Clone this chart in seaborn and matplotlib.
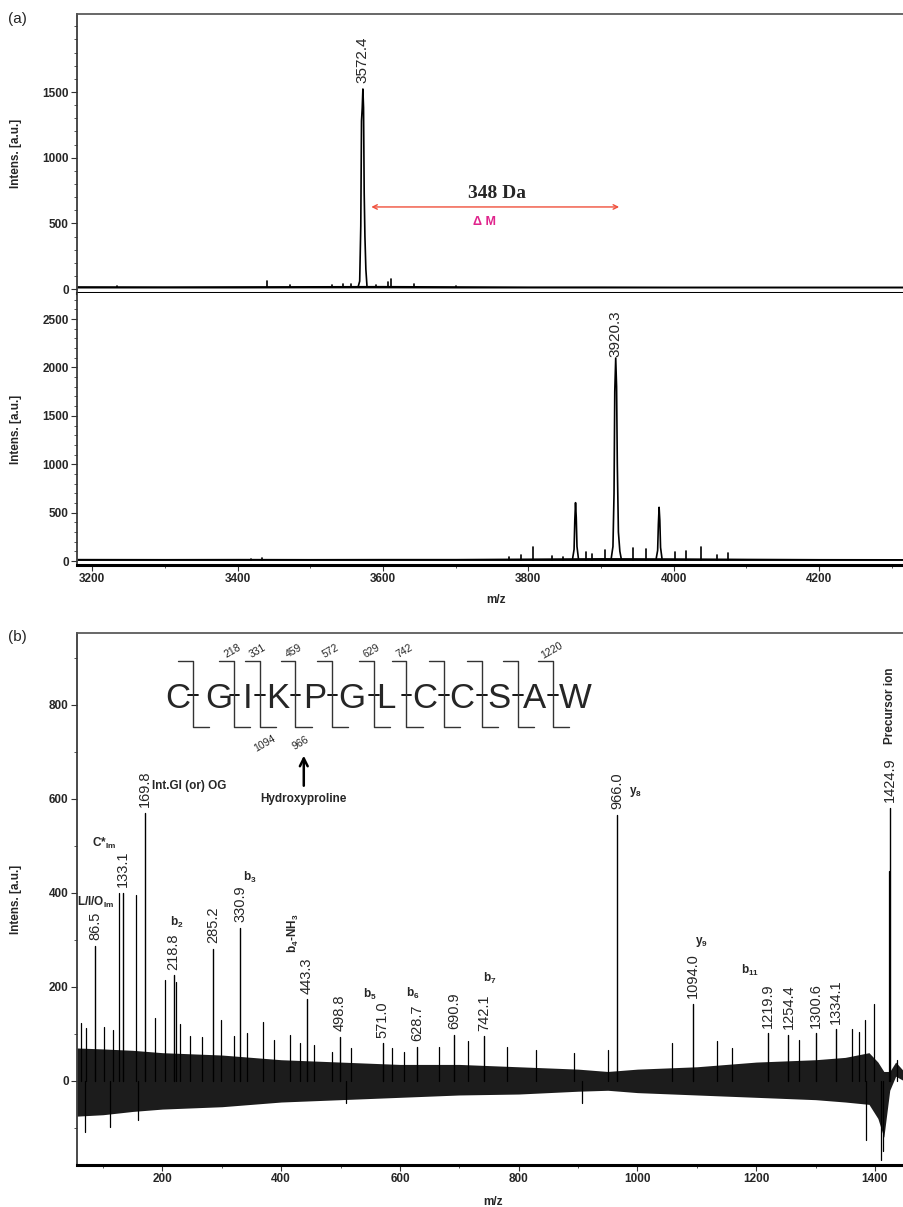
import numpy as np
import pandas as pd
import seaborn as sns
import matplotlib.pyplot as plt
from matplotlib.ticker import MultipleLocator

sns.set_theme(style="ticks")
plt.rcParams["font.family"] = ["Liberation Sans", "DejaVu Sans"]
plt.rcParams["mathtext.fontset"] = "custom"
plt.rcParams["mathtext.rm"] = "Liberation Sans"
plt.rcParams["mathtext.bf"] = "Liberation Sans:bold"

# ---------------- data ----------------
# (a) top spectrum: main peak profile + small peaks
a1_peak_mz = [3566, 3568, 3569.5, 3570.5, 3571.5, 3572.4, 3573.3, 3574.2, 3575.2, 3576.5, 3578]
a1_peak_int = [20, 60, 480, 1280, 1380, 1523, 1380, 730, 400, 150, 25]
a1_small_mz = [3234, 3440, 3472, 3530, 3545, 3556, 3591, 3607, 3611, 3643, 3700]
a1_small_int = [25, 60, 28, 32, 35, 38, 30, 55, 80, 42, 25]
a1_base_mz = [3179, 3300, 3400, 3500, 3600, 3700, 3800, 3900, 4000, 4100, 4200, 4317]
a1_base_hi = [26, 25, 26, 27, 28, 26, 24, 24, 23, 23, 23, 23]
a1_base_lo = [8, 8, 8, 9, 9, 8, 8, 8, 8, 8, 8, 8]

# (a) lower spectrum
a2_peak_mz = [3914, 3916.5, 3918, 3919, 3920.3, 3921.5, 3922.5, 3924, 3926, 3928]
a2_peak_int = [20, 150, 700, 1750, 2097, 1800, 1000, 300, 100, 20]
a2_side1_mz = [3861, 3863, 3864, 3865, 3866, 3867, 3869]
a2_side1_int = [25, 120, 420, 603, 450, 150, 25]
a2_side2_mz = [3976, 3978, 3979, 3980, 3981, 3982, 3984]
a2_side2_int = [25, 110, 380, 555, 420, 140, 25]
a2_small_mz = [3419, 3434, 3774, 3790, 3807, 3833, 3848, 3880, 3888, 3906, 3944,
               3962, 4002, 4017, 4037, 4060, 4075]
a2_small_int = [22, 28, 40, 60, 148, 50, 45, 90, 70, 113, 130, 120, 90, 100, 145, 60, 80]
a2_base_mz = [3179, 3300, 3400, 3500, 3600, 3700, 3800, 3900, 4000, 4100, 4200, 4317]
a2_base_hi = [28, 27, 28, 27, 28, 28, 32, 36, 34, 30, 27, 26]
a2_base_lo = [6, 6, 6, 6, 6, 6, 6, 6, 6, 6, 6, 6]

# (b) MS/MS spectrum: labelled peaks
b_lab_mz = [86.5, 133.1, 169.8, 218.8, 285.2, 330.9, 443.3, 498.8, 571.0, 628.7,
            690.9, 742.1, 966.0, 1094.0, 1219.9, 1254.4, 1300.6, 1334.1, 1424.9]
b_lab_int = [287, 400, 570, 225, 281, 326, 174, 94, 80, 73,
             98, 95, 566, 164, 101, 98, 101, 110, 581]
b_lab_txt = ["86.5", "133.1", "169.8", "218.8", "285.2", "330.9", "443.3", "498.8",
             "571.0", "628.7", "690.9", "742.1", "966.0", "1094.0", "1219.9",
             "1254.4", "1300.6", "1334.1", "1424.9"]
# unlabelled spikes (positive and negative)
b_spk_mz = [62, 69.5, 72, 101, 111, 116, 126, 155, 159, 187.6, 205, 222, 229, 247,
            266, 298.5, 320, 342, 369, 388, 414, 431, 456, 485, 509, 518, 587, 606,
            665, 714, 781, 829, 893, 907, 951, 1058, 1134, 1160, 1272, 1362, 1374,
            1384, 1384.5, 1399, 1411, 1413, 1423.8, 1437]
b_spk_int = [124, -108, 112, 115, -98, 109, 400, 395, -83, 134, 215, 210, 120, 95,
             93, 130, 95, 101, 126, 87, 98, 80, 77, 62, -47, 70, 70, 62,
             73, 84, 73, 66, 59, -47, 66, 80, 84, 70, 87, 110, 104,
             130, -125, 164, -168, -150, 447, 45]
# noise band envelope
b_noise_mz = [56, 100, 150, 200, 300, 400, 500, 600, 700, 800, 900, 950, 1000,
              1100, 1200, 1300, 1350, 1390, 1405, 1415, 1425, 1435, 1449]
b_noise_hi = [70, 68, 65, 60, 55, 45, 40, 35, 35, 30, 25, 20, 25,
              30, 40, 45, 50, 60, 40, 20, 20, 40, 20]
b_noise_lo = [-75, -72, -65, -60, -55, -45, -40, -35, -30, -28, -22, -20, -25,
              -30, -35, -40, -45, -50, -80, -120, -20, 10, 0]

# peptide sequence annotation
seq_letters = ["C", "G", "I", "K", "P", "G", "L", "C", "C", "S", "A", "W"]
seq_mz = [226, 295, 344, 394.5, 456, 519, 576, 642, 704, 767, 826, 895]
cleave_mz = [251, 321, 364, 424, 486, 556, 611, 674, 738, 799, 858]
b_ion_txt = ["218", "331", "459", "572", "629", "742", "1220"]
b_ion_site = [1, 2, 3, 4, 5, 6, 10]
y_ion_txt = ["1094", "966"]
y_ion_site = [2, 3]

# ion-type annotations: text, m/z, intensity, rotation, alignment
ion_notes = [
    ("Int.GI (or) OG", 182, 628, 0, "left"),
    (r"C*$_\mathbf{Im}$", 102, 506, 0, "center"),
    (r"L/I/O$_\mathbf{Im}$", 88, 379, 0, "center"),
    (r"b$_\mathbf{2}$", 224, 338, 0, "center"),
    (r"b$_\mathbf{3}$", 347, 432, 0, "center"),
    (r"b$_\mathbf{4}$-NH$_\mathbf{3}$", 420, 315, 90, "center"),
    (r"b$_\mathbf{5}$", 550, 183, 0, "center"),
    (r"b$_\mathbf{6}$", 622, 187, 0, "center"),
    (r"b$_\mathbf{7}$", 752, 219, 0, "center"),
    (r"y$_\mathbf{8}$", 996, 615, 0, "center"),
    (r"y$_\mathbf{9}$", 1107, 296, 0, "center"),
    (r"b$_\mathbf{11}$", 1190, 234, 0, "center"),
    ("Precursor ion", 1426, 798, 90, "center"),
]

a_xticks = [3200, 3400, 3600, 3800, 4000, 4200]
a1_yticks = [0, 500, 1000, 1500]
a2_yticks = [0, 500, 1000, 1500, 2000, 2500]
b_xticks = [200, 400, 600, 800, 1000, 1200, 1400]
b_yticks = [0, 200, 400, 600, 800]


def traces(groups):
    rows = []
    for k, (xs, ys) in enumerate(groups):
        for x, y in zip(xs, ys):
            rows.append((k, x, y))
    return pd.DataFrame(rows, columns=["trace", "mz", "inten"])


def sticks(mz, inten, base=0):
    return [([m, m], [base, v]) for m, v in zip(mz, inten)]


def draw(ax, groups, lw):
    df = traces(groups)
    sns.lineplot(data=df, x="mz", y="inten", units="trace", estimator=None,
                 sort=False, color="black", lw=lw, ax=ax, legend=False)


W, H = 904, 1207
fig = plt.figure(figsize=(W / 100, H / 100), dpi=100)


def px_axes(left, top, right, bottom):
    return fig.add_axes([left / W, 1 - bottom / H, (right - left) / W, (bottom - top) / H])


ax1 = px_axes(77, 14, 904, 293)
ax2 = px_axes(77, 293, 904, 565)
ax3 = px_axes(77, 633, 904, 1165)

tick_font = dict(fontsize=8.5, fontweight="bold")
lab_font = dict(fontsize=8.5, fontweight="bold")

for ax in (ax1, ax2, ax3):
    ax.set_facecolor("white")
    ax.spines["right"].set_visible(False)
    ax.spines["left"].set_color("#333333")
    ax.spines["top"].set_color("#555555")
    ax.spines["bottom"].set_color("black")
    ax.spines["bottom"].set_linewidth(2.2)
    ax.tick_params(direction="out", length=4, width=0.8, color="#333333", pad=2)
    ax.tick_params(which="minor", direction="out", length=2.5, width=0.7, color="#555555")
    ax.yaxis.set_minor_locator(MultipleLocator(100))
    ax.set_ylabel("Intens. [a.u.]", **lab_font)
    ax.yaxis.set_label_coords(-0.067, 0.5)
    ax.grid(False)

ax2.spines["top"].set_visible(False)

# ---- (a) upper ----
ax1.fill_between(a1_base_mz, a1_base_lo, a1_base_hi, color="black", lw=0)
draw(ax1, [(a1_peak_mz, a1_peak_int)] + sticks(a1_small_mz, a1_small_int, 15), 1.2)
ax1.set_xlim(3179, 4317)
ax1.set_ylim(-30, 2094)
ax1.set_xticks(a_xticks)
ax1.xaxis.set_minor_locator(MultipleLocator(100))
ax1.tick_params(axis="x", which="both", bottom=False, labelbottom=False)
ax1.set_yticks(a1_yticks)
ax1.set_yticklabels([str(t) for t in a1_yticks], **tick_font)
ax1.set_xlabel("")
ax1.annotate("3572.4", xy=(3572.4, max(a1_peak_int)), xytext=(0, 4),
             textcoords="offset points", rotation=90, ha="center", va="bottom", fontsize=11)
ax1.annotate("", xy=(3925, 625), xytext=(3584, 625),
             arrowprops=dict(arrowstyle="<->", color="#f0503c", lw=1.0,
                             shrinkA=0, shrinkB=0, mutation_scale=8))
ax1.text(3757, 731, "348 Da", ha="center", va="center", fontsize=14,
         fontweight="bold", family=["Liberation Serif", "DejaVu Serif"])
ax1.text(3740, 510, "Δ M", ha="center", va="center", fontsize=9,
         fontweight="bold", color="#e0248c")

# ---- (a) lower ----
ax2.fill_between(a2_base_mz, a2_base_lo, a2_base_hi, color="black", lw=0)
draw(ax2, [(a2_peak_mz, a2_peak_int), (a2_side1_mz, a2_side1_int),
           (a2_side2_mz, a2_side2_int)] + sticks(a2_small_mz, a2_small_int, 15), 1.2)
ax2.set_xlim(3179, 4317)
ax2.set_ylim(-41, 2769)
ax2.set_xticks(a_xticks)
ax2.set_xticklabels([str(t) for t in a_xticks], **tick_font)
ax2.xaxis.set_minor_locator(MultipleLocator(100))
ax2.set_yticks(a2_yticks)
ax2.set_yticklabels([str(t) for t in a2_yticks], **tick_font)
ax2.set_xlabel("m/z", **lab_font)
ax2.xaxis.set_label_coords(0.507, -0.107)
ax2.annotate("3920.3", xy=(3920.3, max(a2_peak_int)), xytext=(0, 1),
             textcoords="offset points", rotation=90, ha="center", va="bottom", fontsize=11)

# ---- (b) ----
ax3.fill_between(b_noise_mz, b_noise_lo, b_noise_hi, color="#1c1c1c", lw=0)
draw(ax3, sticks(b_spk_mz, b_spk_int), 0.9)
draw(ax3, sticks(b_lab_mz, b_lab_int), 1.0)
ax3.set_xlim(56, 1449)
ax3.set_ylim(-179, 953)
ax3.set_xticks(b_xticks)
ax3.set_xticklabels([str(t) for t in b_xticks], **tick_font)
ax3.xaxis.set_minor_locator(MultipleLocator(100))
ax3.set_yticks(b_yticks)
ax3.set_yticklabels([str(t) for t in b_yticks], **tick_font)
ax3.set_xlabel("m/z", **lab_font)
ax3.xaxis.set_label_coords(0.503, -0.058)

for m, v, t in zip(b_lab_mz, b_lab_int, b_lab_txt):
    ax3.annotate(t, xy=(m, v), xytext=(0, 4), textcoords="offset points",
                 rotation=90, ha="center", va="bottom", fontsize=10.5)

for t, m, v, rot, ha in ion_notes:
    ax3.text(m, v, t, rotation=rot, ha=ha, va="center", fontsize=8.5, fontweight="bold")

# peptide sequence with fragmentation brackets
for letter, m in zip(seq_letters, seq_mz):
    ax3.text(m, 794, letter, ha="center", va="baseline", fontsize=25)
for m in cleave_mz:
    ax3.plot([m - 8, m + 8], [822, 822], color="black", lw=1.3)
    ax3.plot([m - 25, m, m, m + 27], [893, 893, 753, 753], color="#333333", lw=1.0)
for t, i in zip(b_ion_txt, b_ion_site):
    ax3.text(cleave_mz[i] - 3, 915, t, rotation=30, ha="center", va="center", fontsize=7.5)
for t, i in zip(y_ion_txt, y_ion_site):
    ax3.text(cleave_mz[i] + 8, 718, t, rotation=30, ha="center", va="center", fontsize=7.5)
ax3.annotate("", xy=(438, 692), xytext=(438, 628),
             arrowprops=dict(arrowstyle="->", color="black", lw=1.8,
                             shrinkA=0, shrinkB=0, mutation_scale=14))
ax3.text(438, 600, "Hydroxyproline", ha="center", va="center", fontsize=8.5, fontweight="bold")

fig.text(8 / W, 1 - 19 / H, "(a)", fontsize=11, va="center")
fig.text(8 / W, 1 - 637 / H, "(b)", fontsize=11, va="center")

fig.savefig("out.png", dpi=100, facecolor="white")
